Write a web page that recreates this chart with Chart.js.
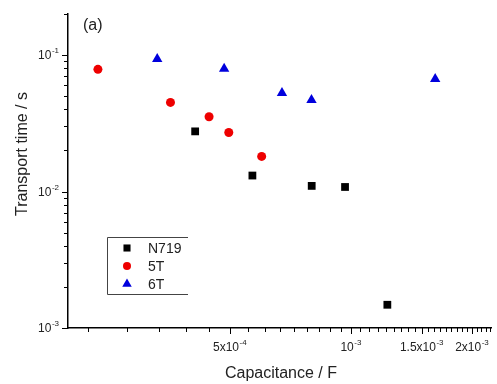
<!DOCTYPE html>
<html>
<head>
<meta charset="utf-8">
<script src="https://cdn.jsdelivr.net/npm/chart.js@4.4.0/dist/chart.umd.min.js"></script>
<style>
html, body { margin: 0; padding: 0; background: #fff; }
</style>
</head>
<body>
<canvas id="chart-area" width="497" height="384"></canvas>
<script>
// values (capacitance in F, transport time in s)
var seriesNames = ["N719", "5T", "6T"];
var n719Cap  = [4.10e-4, 5.69e-4, 7.99e-4, 9.67e-4, 1.232e-3];
var n719Time = [0.0276, 0.0131, 0.0110, 0.0108, 0.00148];
var t5Cap  = [2.35e-4, 3.56e-4, 4.44e-4, 4.97e-4, 6.00e-4];
var t5Time = [0.0786, 0.0450, 0.0353, 0.0271, 0.0181];
var t6Cap  = [3.30e-4, 4.84e-4, 6.74e-4, 7.98e-4, 1.62e-3];
var t6Time = [0.0935, 0.0794, 0.0527, 0.0468, 0.0667];

// labelled ticks: mantissa text + exponent
var xTickValues = [5e-4, 1e-3, 1.5e-3, 2e-3];
var xTickBase = ["5x10", "10", "1.5x10", "2x10"];
var xTickExp = ["-4", "-3", "-3", "-3"];
var yTickValues = [1e-3, 1e-2, 1e-1];
var yTickBase = ["10", "10", "10"];
var yTickExp = ["-3", "-2", "-1"];

var FONT = "'Liberation Sans', Arial, sans-serif";

function toPoints(xs, ys) {
    return xs.map(function (x, i) { return { x: x, y: ys[i] }; });
}

// Origin-style minor ticks: x in steps of 5e-4/9, y at 1..9 per decade
function xTicks(scale) {
    var out = [];
    var step = 5e-4 / 9;
    for (var k = 4; k * step <= scale.max; k++) {
        out.push({ value: k * step, major: k % 9 === 0 });
    }
    scale.ticks = out;
}
function yTicks(scale) {
    var out = [];
    for (var d = -3; d <= -1; d++) {
        for (var m = 1; m <= 9; m++) {
            var v = m * Math.pow(10, d);
            if (v <= scale.max * 1.0001) out.push({ value: v, major: m === 1 });
        }
    }
    scale.ticks = out;
}

// draws "base" with a raised exponent; align 'right' or 'center'
function powerLabel(ctx, base, exp, x, y, align) {
    ctx.font = '12px ' + FONT;
    var wb = ctx.measureText(base).width;
    ctx.font = '8px ' + FONT;
    var we = ctx.measureText(exp).width;
    var w = wb + we + 0.5;
    var left = align === 'right' ? x - w : x - w / 2;
    ctx.textAlign = 'left';
    ctx.textBaseline = 'middle';
    ctx.font = '12px ' + FONT;
    ctx.fillText(base, left, y);
    ctx.font = '8px ' + FONT;
    ctx.fillText(exp, left + wb + 0.5, y - 5);
}

var tickMarks = {
    id: 'tickMarks',
    afterDraw: function (chart) {
        var ctx = chart.ctx, area = chart.chartArea;
        var xs = chart.scales.x, ys = chart.scales.y;
        ctx.save();
        ctx.strokeStyle = '#000';
        ctx.lineWidth = 1;
        xs.ticks.forEach(function (t) {
            var p = Math.round(xs.getPixelForValue(t.value)) + 0.5;
            ctx.beginPath();
            ctx.moveTo(p, area.bottom);
            ctx.lineTo(p, area.bottom + (t.major ? 6 : 4));
            ctx.stroke();
        });
        ys.ticks.forEach(function (t) {
            var p = Math.round(ys.getPixelForValue(t.value)) + 0.5;
            ctx.beginPath();
            ctx.moveTo(area.left, p);
            ctx.lineTo(area.left - (t.major ? 6 : 4), p);
            ctx.stroke();
        });

        // tick labels
        ctx.fillStyle = '#222';
        xTickValues.forEach(function (v, i) {
            powerLabel(ctx, xTickBase[i], xTickExp[i], xs.getPixelForValue(v), area.bottom + 20, 'center');
        });
        yTickValues.forEach(function (v, i) {
            powerLabel(ctx, yTickBase[i], yTickExp[i], area.left - 9, ys.getPixelForValue(v) + 1, 'right');
        });

        // axis titles and panel tag
        ctx.font = '16px ' + FONT;
        ctx.textAlign = 'center';
        ctx.textBaseline = 'middle';
        ctx.save();
        ctx.translate(23, 154);
        ctx.rotate(-Math.PI / 2);
        ctx.fillText('Transport time / s', 0, 0);
        ctx.restore();
        ctx.fillText('Capacitance / F', 281, 374);
        ctx.textAlign = 'left';
        ctx.fillText('(a)', 83, 26);

        // legend box
        ctx.strokeStyle = '#444';
        ctx.beginPath();
        ctx.moveTo(188, 237.5);
        ctx.lineTo(107.5, 237.5);
        ctx.lineTo(107.5, 294.5);
        ctx.lineTo(188, 294.5);
        ctx.stroke();
        var rows = [248, 266, 284];
        chart.data.datasets.forEach(function (ds, i) {
            ctx.fillStyle = ds.backgroundColor;
            ctx.strokeStyle = ds.backgroundColor;
            Chart.helpers.drawPoint(ctx, {
                pointStyle: ds.pointStyle,
                radius: ds.pointRadius - 0.5,
                borderWidth: 0,
                rotation: 0
            }, 127, rows[i]);
            ctx.fillStyle = '#222';
            ctx.font = '14px ' + FONT;
            ctx.textAlign = 'left';
            ctx.textBaseline = 'middle';
            ctx.fillText(ds.label, 148, rows[i] + 1);
        });
        ctx.restore();
    }
};

var config = {
    type: 'scatter',
    data: {
        datasets: [{
            label: seriesNames[0],
            data: toPoints(n719Cap, n719Time),
            pointStyle: 'rect',
            pointRadius: 5.5,
            backgroundColor: '#000000',
            borderColor: '#000000',
            borderWidth: 0
        }, {
            label: seriesNames[1],
            data: toPoints(t5Cap, t5Time),
            pointStyle: 'circle',
            pointRadius: 4.5,
            backgroundColor: '#ee0000',
            borderColor: '#ee0000',
            borderWidth: 0
        }, {
            label: seriesNames[2],
            data: toPoints(t6Cap, t6Time),
            pointStyle: 'triangle',
            pointRadius: 6,
            backgroundColor: '#0000dd',
            borderColor: '#0000dd',
            borderWidth: 0
        }]
    },
    options: {
        responsive: false,
        animation: false,
        layout: { padding: { top: 14, left: 0, right: 0, bottom: 0 } },
        plugins: {
            legend: { display: false },
            tooltip: { enabled: false }
        },
        scales: {
            x: {
                type: 'logarithmic',
                min: 1.98e-4,
                max: 2.23e-3,
                afterBuildTicks: xTicks,
                afterFit: function (s) { s.height = 56; s.paddingLeft = 0; s.paddingRight = 0; },
                grid: { display: false, drawTicks: false },
                border: { display: true, color: '#000', width: 1.5 },
                ticks: { display: false, autoSkip: false }
            },
            y: {
                type: 'logarithmic',
                min: 1e-3,
                max: 0.2,
                afterBuildTicks: yTicks,
                afterFit: function (s) { s.width = 68; s.paddingTop = 0; s.paddingBottom = 0; },
                grid: { display: false, drawTicks: false },
                border: { display: true, color: '#000', width: 1.5 },
                ticks: { display: false, autoSkip: false }
            }
        }
    },
    plugins: [tickMarks]
};

var ctx = document.getElementById("chart-area").getContext("2d");
var myChart = new Chart(ctx, config);
</script>
</body>
</html>
